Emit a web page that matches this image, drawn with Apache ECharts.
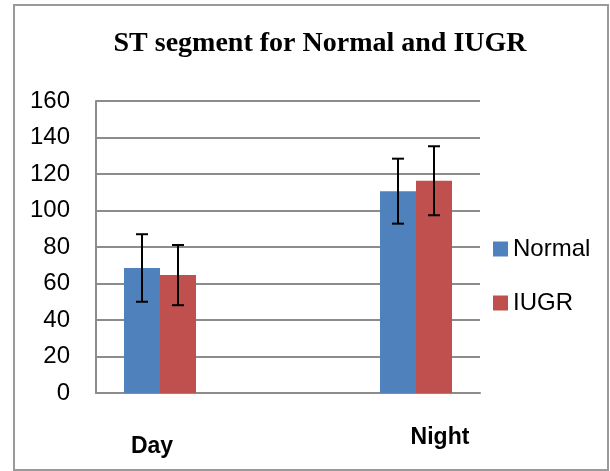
<!DOCTYPE html>
<html>
<head>
<meta charset="utf-8">
<style>html,body{margin:0;padding:0;background:#fff}#chart{width:610px;height:471px}</style>
<script src="https://cdn.jsdelivr.net/npm/echarts@6/dist/echarts.min.js"></script>
</head>
<body>
<div id="chart"></div>
<script>
// ---- data ----
var categories = ['Day', '', 'Night'];
var seriesNames = ['Normal', 'IUGR'];
var normalMean = [68.5, null, 110.6];
var normalErr  = [18.5, null, 17.8];
var iugrMean   = [64.6, null, 116.3];
var iugrErr    = [16.5, null, 18.9];
var yTicks = [0, 20, 40, 60, 80, 100, 120, 140, 160];

var BAR_W = 36;
var chart = echarts.init(document.getElementById('chart'));

function errData(mean, err) {
  var out = [];
  for (var i = 0; i < mean.length; i++) {
    if (mean[i] == null) continue;
    out.push([i, mean[i] - err[i], mean[i] + err[i]]);
  }
  return out;
}

function errRender(offset) {
  return function (params, api) {
    var idx = api.value(0);
    var lo = api.coord([idx, api.value(1)]);
    var hi = api.coord([idx, api.value(2)]);
    var x = lo[0] + offset;
    var cap = 6;
    var st = { stroke: '#000', lineWidth: 2 };
    return {
      type: 'group',
      children: [
        { type: 'line', shape: { x1: x, y1: hi[1], x2: x, y2: lo[1] }, style: st },
        { type: 'line', shape: { x1: x - cap, y1: hi[1], x2: x + cap, y2: hi[1] }, style: st },
        { type: 'line', shape: { x1: x - cap, y1: lo[1], x2: x + cap, y2: lo[1] }, style: st }
      ]
    };
  };
}

chart.setOption({
  animation: false,
  backgroundColor: '#fff',
  graphic: [{
    type: 'rect', shape: { x: 14, y: 5, width: 594, height: 465 },
    style: { fill: 'none', stroke: '#9a9a9a', lineWidth: 2 }, silent: true, z: -1
  }],
  title: {
    text: 'ST segment for Normal and IUGR',
    left: 320, textAlign: 'center', top: 30, padding: 0,
    textStyle: { fontFamily: 'Liberation Serif', fontWeight: 'bold', fontSize: 28, color: '#000' }
  },
  legend: {
    orient: 'vertical', left: 488, top: 232,
    itemWidth: 15, itemHeight: 15, itemGap: 30, icon: 'rect',
    data: seriesNames,
    textStyle: { fontFamily: 'Liberation Sans', fontSize: 24, color: '#000' }
  },
  grid: { left: 96, right: 130, top: 101, bottom: 78, containLabel: false },
  xAxis: {
    type: 'category', data: categories,
    axisLine: { lineStyle: { color: '#8c8c8c', width: 2 } },
    axisTick: { show: false },
    axisLabel: {
      interval: 0, margin: 33,
      formatter: function (v) { return v === 'Day' ? '{d|Day}' : (v === 'Night' ? '{n|Night}' : ''); },
      rich: {
        d: { fontFamily: 'Liberation Sans', fontWeight: 'bold', fontSize: 23, color: '#000', padding: [9, 16, 0, 0] },
        n: { fontFamily: 'Liberation Sans', fontWeight: 'bold', fontSize: 23, color: '#000', padding: [0, 0, 0, 48] }
      }
    }
  },
  yAxis: {
    type: 'value', min: yTicks[0], max: yTicks[yTicks.length - 1], interval: 20,
    axisLine: { show: true, lineStyle: { color: '#8c8c8c', width: 2 } },
    axisTick: { show: false },
    splitLine: { lineStyle: { color: '#8c8c8c', width: 2 } },
    axisLabel: { margin: 26, fontFamily: 'Liberation Sans', fontSize: 24, color: '#000' }
  },
  series: [
    { name: 'Normal', type: 'bar', data: normalMean, barWidth: BAR_W, barGap: '0%',
      itemStyle: { color: '#4F81BD' } },
    { name: 'IUGR', type: 'bar', data: iugrMean, barWidth: BAR_W, barGap: '0%',
      itemStyle: { color: '#C0504D' } },
    { type: 'custom', name: 'Normal err', data: errData(normalMean, normalErr),
      renderItem: errRender(-BAR_W / 2), z: 10, encode: { x: 0, y: [1, 2] } },
    { type: 'custom', name: 'IUGR err', data: errData(iugrMean, iugrErr),
      renderItem: errRender(BAR_W / 2), z: 10, encode: { x: 0, y: [1, 2] } }
  ]
});
</script>
</body>
</html>
